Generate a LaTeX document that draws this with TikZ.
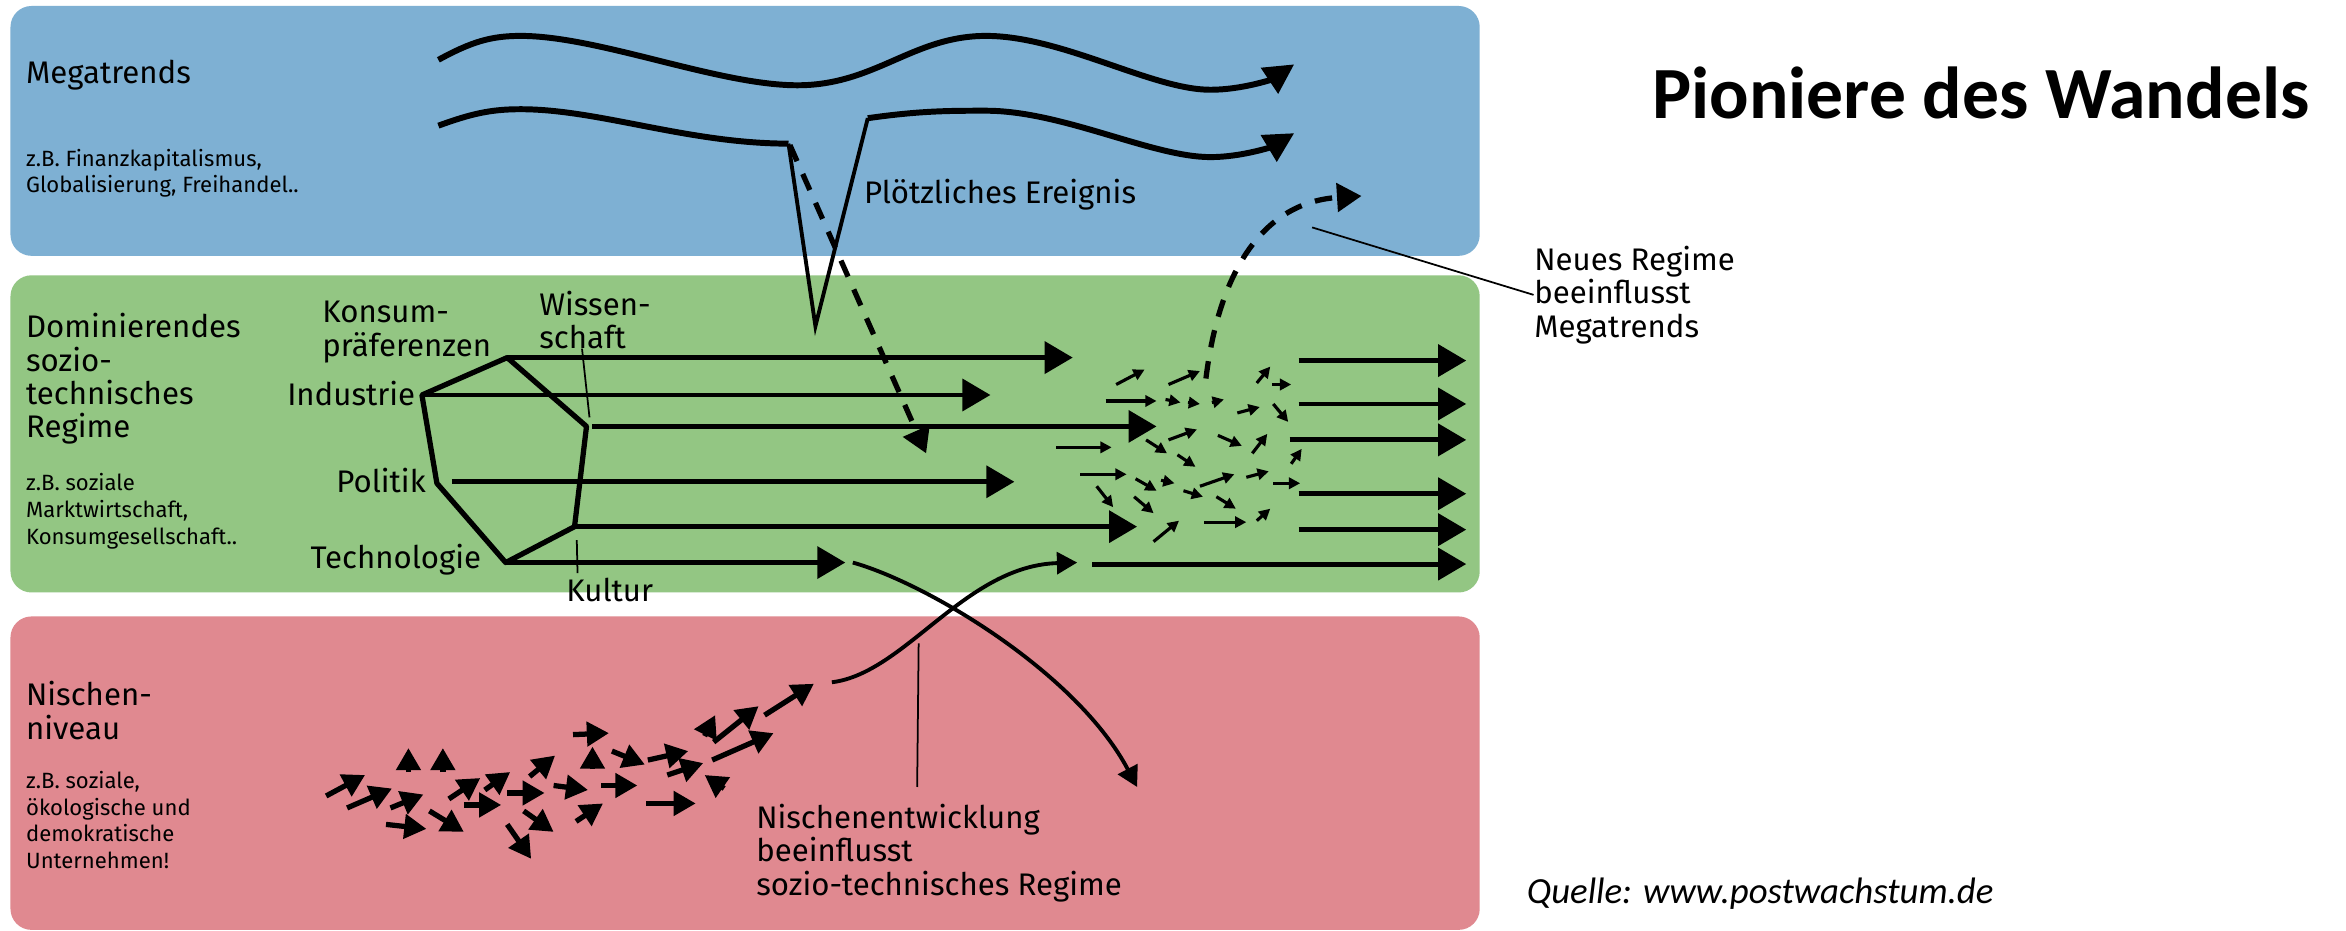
\documentclass[tikz,border=0pt]{standalone}
\usepackage{fontspec}
\setmainfont{Fira Sans}
\newfontfamily\calibrifont{Carlito}
\usepackage{tikz}
\usetikzlibrary{arrows.meta, positioning}

\definecolor{megablue}{RGB}{126,176,211}
\definecolor{regimegreen}{RGB}{147,198,131}
\definecolor{nichepink}{RGB}{224,137,144}
\newcommand{\mittel}{\fontsize{8.9}{9.5}\selectfont}
\newcommand{\klein}{\fontsize{6.3}{7.6}\selectfont}

\begin{document}
\begin{tikzpicture}[
		x=0.015cm, y=-0.015cm,
		panel/.style={rounded corners=6pt},
		tag/.style={font=\mittel, inner sep=0pt, align=left},
		note/.style={font=\klein, inner sep=0pt, align=left},
		flow/.style={line width=1.4pt, -{Triangle[length=8pt, width=9pt]}},
		wave/.style={line width=1.7pt, -{Triangle[length=8.5pt, width=8.5pt]}},
		jump/.style={line width=1.5pt, dash pattern=on 5pt off 4pt, -{Triangle[length=7pt, width=8pt]}},
		swirl/.style={line width=0.9pt, -{Triangle[length=3.2pt, width=3.2pt]}},
		niche/.style={line width=1.5pt, -{Triangle[length=6.3pt, width=6.8pt]}},
		cross/.style={line width=1.1pt, -{Triangle[length=5.8pt, width=6.2pt]}},
		leader/.style={line width=0.5pt}]

	\useasboundingbox (0,0) rectangle (1568,622);
	\fill[white] (0,0) rectangle (1568,622);

	% the three levels
	\fill[panel, megablue] (7,4) rectangle (989,171);
	\fill[panel, regimegreen] (7,184) rectangle (989,396);
	\fill[panel, nichepink] (7,412) rectangle (989,621.5);

	\node[tag, anchor=west] (megatrends) at (17,50) {Megatrends};
	\node[note, anchor=north west] (mega_examples) at (17,99) {z.B. Finanzkapitalismus,\\Globalisierung, Freihandel..};
	\node[tag, anchor=north west] (regime_title) at (17,209) {Dominierendes\\sozio-\\technisches\\Regime};
	\node[note, anchor=north west] (regime_examples) at (17,316) {z.B. soziale\\Marktwirtschaft,\\Konsumgesellschaft..};
	\node[tag, anchor=north west] (niche_title) at (17,455) {Nischen-\\niveau};
	\node[note, anchor=north west] (niche_examples) at (17,515) {z.B. soziale,\\ökologische und\\demokratische\\Unternehmen!};

	\node[tag, anchor=north west] (konsum) at (215,201) {Konsum-\\präferenzen};
	\node[tag, anchor=north west] (wissen) at (360,194) {Wissen-\\schaft};
	\node[tag, anchor=east] (industrie) at (278,263) {Industrie};
	\node[tag, anchor=east] (politik) at (285,321) {Politik};
	\node[tag, anchor=east] (technologie) at (322,374) {Technologie};
	\node[tag, anchor=west] (kultur) at (378,394) {Kultur};
	\node[tag, anchor=west] (ereignis) at (577,130) {Plötzliches Ereignis};
	\node[tag, anchor=north west] (niche_note) at (505,537) {Nischenentwicklung\\beeinflusst\\sozio-technisches Regime};
	\node[tag, anchor=north west] (regime_note) at (1025,164) {Neues Regime\\beeinflusst\\Megatrends};

	\node[font=\calibrifont\bfseries\fontsize{21}{24}\selectfont, inner sep=0pt, anchor=base] (title) at (1324,79) {Pioniere des Wandels};
	\node[font=\calibrifont\itshape\fontsize{10.5}{12}\selectfont, inner sep=0pt, anchor=base west] (quelle) at (1020,604) {Quelle: www.postwachstum.de};

	% regime hexagon
	\coordinate (kon) at (339,239);
	\coordinate (ind) at (282,264);
	\coordinate (pol) at (292,323);
	\coordinate (tec) at (338,376);
	\coordinate (kul) at (384,352);
	\coordinate (wis) at (392,285);
	\coordinate (wis_out) at (396,285);
	\coordinate (pol_out) at (302,322);

	\draw[line width=1.5pt, line join=round] (kon) -- (ind) -- (pol) -- (tec) -- (kul) -- (wis) -- cycle;

	\draw[flow] (kon) -- ++(378,0);
	\draw[flow] (ind) -- ++(380,0);
	\draw[flow] (wis_out) -- ++(377,0);
	\draw[flow] (pol_out) -- ++(376,0);
	\draw[flow] (kul) -- ++(376,0);
	\draw[flow] (tec) -- ++(227,0);

	\foreach \y in {241,270,330,354}
		\draw[flow] (868,\y) -- (980,\y);
	\draw[flow] (862,294) -- (980,294);
	\draw[flow] (730,377) -- (980,377);

	\draw[leader] (389,233) -- (394,279);
	\draw[leader] (385.5,361) -- (386,383);

	% megatrends
	\draw[wave] (293,40) .. controls (315,28) and (328,24) .. (348,24)
		.. controls (400,24) and (480,57) .. (533,57)
		.. controls (585,57) and (610,24) .. (659,24)
		.. controls (710,24) and (770,60) .. (809,60)
		.. controls (830,60) and (850,53) .. (865,43);
	\draw[wave, -] (293,84) .. controls (315,76) and (328,73) .. (348,73)
		.. controls (400,73) and (460,96) .. (527,96);
	\draw[line width=1.1pt, line join=miter] (527,96) -- (545,218) -- (580,79);
	\draw[wave] (580,79) .. controls (615,74) and (635,74) .. (659,74)
		.. controls (710,74) and (770,105) .. (809,105)
		.. controls (830,105) and (850,98) .. (865,89);

	\draw[jump] (528,97) -- (619,303);
	\draw[jump] (806,253) .. controls (815,180) and (845,135) .. (910,131);
	\draw[leader] (877,152) -- (regime_note.west);

	% turbulence in the regime
	\foreach \ax/\ay/\bx/\by in {746/257/765/247, 781/257/802/248, 840/256/849/245, 850/257/863/257,
			739/268/773/268, 779/267/789/269, 794/269/802/270, 810/269/818/267, 827/276/842/272,
			851/270/861/282, 706/299/743/299, 766/294/780/303, 781/294/800/287, 814/291/830/298,
			837/303/847/290, 787/304/799/312, 863/310/870/300, 722/317/753/317, 759/320/773/328,
			776/321/785/323, 791/328/804/332, 802/325/825/317, 833/319/848/315, 851/323/869/323,
			733/325/744/339, 758/332/771/343, 813/332/826/340, 840/348/849/340, 805/349/833/349,
			771/362/788/348}
		\draw[swirl] (\ax,\ay) -- (\bx,\by);

	% niche innovations
	\foreach \ax/\ay/\bx/\by in {218/532/244/518, 232/540/262/527, 273/516/273/500, 296/516/296/500,
			261/540/283/531, 258/551/285/554, 287/542/310/556, 300/534/321/520, 310/538/335/538,
			324/528/341/516, 339/530/364/530, 350/542/370/556, 339/551/355/574, 354/519/371/505,
			370/525/393/528, 383/491/407/490, 396/514/396/499, 385/549/403/537, 402/525/426/525,
			409/502/431/511, 433/508/460/502, 432/537/465/537, 446/518/470/510, 484/527/471/518,
			471/492/478/478, 477/496/507/472, 476/508/517/490, 511/478/544/457}
		\draw[niche] (\ax,\ay) -- (\bx,\by);

	\draw[cross] (556,456) .. controls (605,450) and (645,378) .. (720,376);
	\draw[cross] (570,376) .. controls (620,390) and (720,450) .. (760,526);
	\draw[leader] (614,430) -- (613,526);

\end{tikzpicture}
\end{document}
